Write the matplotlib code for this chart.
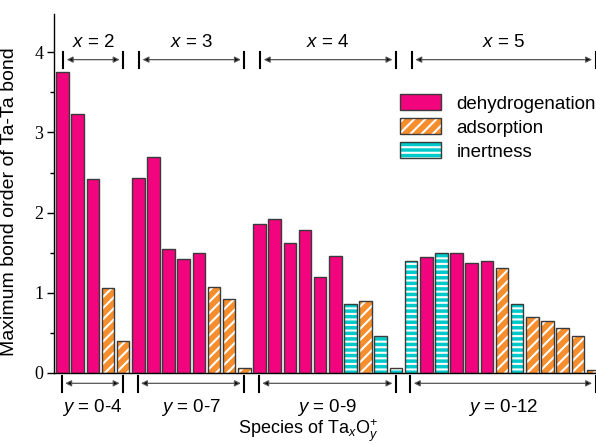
import matplotlib
matplotlib.use("Agg")
import matplotlib.pyplot as plt
from matplotlib.patches import Patch
from matplotlib.legend_handler import HandlerTuple
from matplotlib.ticker import MultipleLocator
import numpy as np

# ---------------- data ----------------
group_names = ["x = 2", "x = 3", "x = 4", "x = 5"]
range_names = ["y = 0-4", "y = 0-7", "y = 0-9", "y = 0-12"]

vals_x2 = [3.75, 3.23, 2.42, 1.055, 0.40]
cats_x2 = ["D", "D", "D", "A", "A"]
vals_x3 = [2.43, 2.69, 1.55, 1.42, 1.50, 1.075, 0.92, 0.055]
cats_x3 = ["D", "D", "D", "D", "D", "A", "A", "A"]
vals_x4 = [1.855, 1.92, 1.62, 1.78, 1.19, 1.46, 0.855, 0.895, 0.46, 0.06]
cats_x4 = ["D", "D", "D", "D", "D", "D", "I", "A", "I", "I"]
vals_x5 = [1.39, 1.45, 1.49, 1.49, 1.375, 1.395, 1.31, 0.855, 0.70, 0.645, 0.56, 0.46, 0.03]
cats_x5 = ["I", "D", "I", "D", "D", "D", "A", "I", "A", "A", "A", "A", "A"]

legend_labels = ["dehydrogenation", "adsorption", "inertness"]
yticks = [0, 1, 2, 3, 4]
ytick_labels = ["0", "1", "2", "3", "4"]

# ---------------- style ----------------
plt.rcParams["hatch.color"] = "white"
plt.rcParams["hatch.linewidth"] = 1.5
plt.rcParams["mathtext.fontset"] = "custom"
plt.rcParams["mathtext.rm"] = "Liberation Sans"
plt.rcParams["mathtext.it"] = "Liberation Sans:italic"
plt.rcParams["font.family"] = ["Liberation Sans", "DejaVu Sans"]
plt.rcParams["font.serif"] = ["Liberation Serif", "DejaVu Serif"]

colors = {"D": "#F2047E", "A": "#F78E2E", "I": "#00C9C9"}
hatches = {"D": None, "A": "///", "I": "---"}
edge = "#3a3a3a"
fs = 13.5

groups_v = [vals_x2, vals_x3, vals_x4, vals_x5]
groups_c = [cats_x2, cats_x3, cats_x4, cats_x5]

fig = plt.figure(figsize=(5.96, 4.45), dpi=100)
ax = fig.add_axes([54.3 / 596, 1 - 372.7 / 445, 1 - 54.3 / 596, (372.7 - 14) / 445])

vals = [v for g in groups_v for v in g]
cats = [c for g in groups_c for c in g]
xpos = np.arange(len(vals))
width = 0.83

for x, v, c in zip(xpos, vals, cats):
    ax.bar(x, v, width=width, color=colors[c], hatch=hatches[c], linewidth=0, zorder=2)
    ax.bar(x, v, width=width, fill=False, edgecolor=edge, linewidth=1.0, zorder=3)

ax.set_xlim(-0.54, 35.2)
ax.set_ylim(0, 4.48)
ax.set_yticks(yticks)
ax.set_yticklabels(ytick_labels, fontfamily=["Liberation Serif", "DejaVu Serif"], fontsize=13)
ax.yaxis.set_minor_locator(MultipleLocator(0.5))
ax.set_xticks([])
for s in ["top", "right"]:
    ax.spines[s].set_visible(False)
ax.spines["left"].set_linewidth(1.0)
ax.spines["bottom"].set_linewidth(1.0)
ax.tick_params(axis="y", which="major", length=5, width=1.0, direction="out", pad=3)
ax.tick_params(axis="y", which="minor", length=3, width=1.0, direction="out")

ax.set_ylabel("Maximum bond order of Ta-Ta bond", fontsize=14)
ax.yaxis.set_label_coords(-0.067, 0.476)

# ---------------- group annotations ----------------
starts = []
ends = []
i = 0
for g in groups_v:
    starts.append(i)
    ends.append(i + len(g) - 1)
    i += len(g)

def span(x0, x1, y, ylo, yhi):
    ax.plot([x0, x0], [ylo, yhi], color="black", lw=1.5, clip_on=False, zorder=5)
    ax.plot([x1, x1], [ylo, yhi], color="black", lw=1.5, clip_on=False, zorder=5)
    ax.annotate("", xy=(x1, y), xytext=(x0, y), annotation_clip=False,
                arrowprops=dict(arrowstyle="<|-|>", ec="#555555", fc="black", lw=0.9,
                                mutation_scale=9, shrinkA=2.5, shrinkB=2.5))

for k in range(4):
    last = ends[k] + (0.17 if k == 3 else 0.0)
    # top
    x0, x1 = starts[k] + 0.05, last
    span(x0, x1, 3.91, 3.80, 4.01)
    name = group_names[k]
    ax.text((x0 + x1) / 2, 4.13, "$x$" + name[1:], ha="center", va="center", fontsize=fs)
    # bottom
    b0, b1 = starts[k] - 0.05, last
    span(b0, b1, -0.1325, -0.24, -0.04)
    rn = range_names[k]
    ax.text((b0 + b1) / 2, -0.44, "$y$" + rn[1:], ha="center", va="center", fontsize=fs,
            clip_on=False)

fig.text(308 / 596, 1 - 431 / 445, r"Species of Ta$_{x}$O$_{y}^{+}$", ha="center", va="center",
         fontsize=13)

# ---------------- legend ----------------
handles = []
for c in ["D", "A", "I"]:
    p1 = Patch(facecolor=colors[c], hatch=hatches[c], linewidth=0)
    p2 = Patch(fill=False, edgecolor=edge, linewidth=1.0)
    handles.append((p1, p2))
fig.legend(handles, legend_labels, loc="upper left", bbox_to_anchor=(400 / 596, 1 - 94 / 445),
           frameon=False, fontsize=fs, handlelength=2.2, handleheight=0.95,
           handletextpad=0.8, labelspacing=0.3, borderpad=0, borderaxespad=0,
           handler_map={tuple: HandlerTuple(ndivide=1)})

fig.savefig("out.png", dpi=100)
